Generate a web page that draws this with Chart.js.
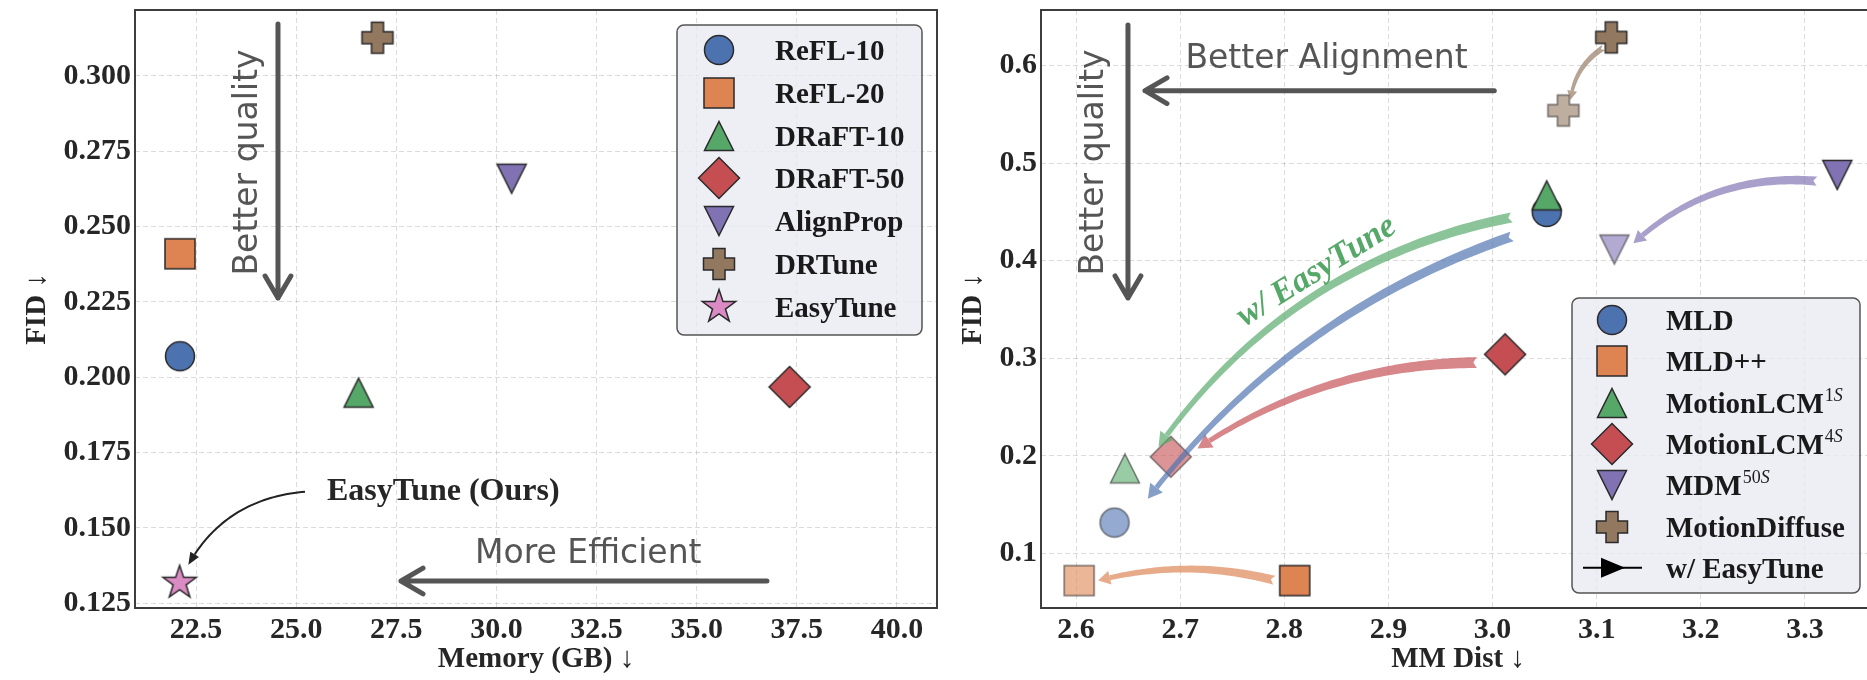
<!DOCTYPE html>
<html>
<head>
<meta charset="utf-8">
<script src="https://cdn.jsdelivr.net/npm/chart.js@4.4.1/dist/chart.umd.min.js"></script>
<style>
  html, body { margin: 0; padding: 0; background: #fff; width: 1867px; height: 680px; overflow: hidden; }
  canvas { position: absolute; top: 0; }
  #left { left: 0; }
  #right { left: 950px; }
</style>
</head>
<body>
<canvas id="left" width="950" height="680"></canvas>
<canvas id="right" width="930" height="680"></canvas>
<script>
// ---- left panel: memory cost vs FID
const methods = ['ReFL-10', 'ReFL-20', 'DRaFT-10', 'DRaFT-50', 'AlignProp', 'DRTune', 'EasyTune'];
const memoryGB = [22.1, 22.1, 26.56, 37.32, 30.38, 27.03, 22.09];
const fidByMemory = [0.207, 0.241, 0.1949, 0.1968, 0.2659, 0.3127, 0.1318];
const memoryTicks = [22.5, 25.0, 27.5, 30.0, 32.5, 35.0, 37.5, 40.0];
const fidTicksLeft = [0.125, 0.150, 0.175, 0.200, 0.225, 0.250, 0.275, 0.300];

// ---- right panel: MM Dist vs FID, before and after EasyTune
const models = ['MLD', 'MLD++', 'MotionLCM', 'MotionLCM', 'MDM', 'MotionDiffuse'];
const modelSup = ['', '', '1', '4', '50', ''];
const mmDistBase = [3.052, 2.810, 3.052, 3.012, 3.331, 3.114];
const fidBase = [0.450, 0.072, 0.467, 0.304, 0.488, 0.629];
const mmDistTuned = [2.637, 2.603, 2.647, 2.691, 3.117, 3.068];
const fidTuned = [0.1315, 0.072, 0.187, 0.199, 0.4115, 0.554];
const mmDistTicks = [2.6, 2.7, 2.8, 2.9, 3.0, 3.1, 3.2, 3.3];
const fidTicksRight = [0.1, 0.2, 0.3, 0.4, 0.5, 0.6];

const SERIF = '"Liberation Serif", "Times New Roman", serif';
const HAND = '"DejaVu Sans", sans-serif';
const INK = '#262626';
const NOTE = '#555555';
const colors = ['#4C72B0', '#DD8452', '#55A868', '#C44E52', '#8172B3', '#937860', '#DA8BC3'];

// filled marker shapes in the matplotlib style, used as pointStyle images
function makeMarker(shape, fill, alpha) {
  const s = 48, m = s / 2;
  const c = document.createElement('canvas');
  c.width = s; c.height = s;
  const g = c.getContext('2d');
  g.globalAlpha = alpha;
  g.fillStyle = fill;
  g.strokeStyle = '#2a2a2a';
  g.lineWidth = 1.5;
  g.beginPath();
  const poly = pts => {
    pts.forEach(([x, y], i) => i ? g.lineTo(m + x, m + y) : g.moveTo(m + x, m + y));
    g.closePath();
  };
  switch (shape) {
    case 'circle': g.arc(m, m, 14.5, 0, Math.PI * 2); break;
    case 'square': poly([[-15, -15], [15, -15], [15, 15], [-15, 15]]); break;
    case 'diamond': poly([[0, -20.5], [20.5, 0], [0, 20.5], [-20.5, 0]]); break;
    case 'triUp': poly([[0, -14.5], [14.5, 14.5], [-14.5, 14.5]]); break;
    case 'triDown': poly([[0, 14.5], [14.5, -14.5], [-14.5, -14.5]]); break;
    case 'plus': {
      const a = 15.5, b = 6;
      poly([[-b, -a], [b, -a], [b, -b], [a, -b], [a, b], [b, b], [b, a], [-b, a], [-b, b], [-a, b], [-a, -b], [-b, -b]]);
      break;
    }
    case 'star': {
      const pts = [];
      for (let k = 0; k < 10; k++) {
        const r = k % 2 ? 6.8 : 17.5, ang = -Math.PI / 2 + k * Math.PI / 5;
        pts.push([r * Math.cos(ang), r * Math.sin(ang)]);
      }
      poly(pts);
      break;
    }
  }
  g.fill();
  g.stroke();
  return c;
}

const shapes = ['circle', 'square', 'triUp', 'diamond', 'triDown', 'plus', 'star'];
const leftMarkers = methods.map((m, i) => makeMarker(shapes[i], colors[i], 1));
const baseMarkers = models.map((m, i) => makeMarker(shapes[i], colors[i], 1));
const tunedMarkers = models.map((m, i) => makeMarker(shapes[i], colors[i], 0.6));

// ---- drawing helpers for the annotations
function quad(S, C, E, t) {
  const u = 1 - t;
  return { x: u * u * S.x + 2 * t * u * C.x + t * t * E.x, y: u * u * S.y + 2 * t * u * C.y + t * t * E.y };
}
function ctrlPoint(S, E, rad) {
  const dx = E.x - S.x, dy = E.y - S.y;
  return { x: (S.x + E.x) / 2 - rad * dy, y: (S.y + E.y) / 2 + rad * dx };
}
function tAtDistFromEnd(S, C, E, d) {
  for (let t = 1; t > 0; t -= 0.001) {
    const p = quad(S, C, E, t);
    if (Math.hypot(p.x - E.x, p.y - E.y) >= d) return t;
  }
  return 0;
}

function grayArrow(ctx, x1, y1, x2, y2) {
  const a = Math.atan2(y2 - y1, x2 - x1), hl = 25.5, spread = 0.53;
  ctx.save();
  ctx.strokeStyle = NOTE;
  ctx.lineWidth = 5;
  ctx.lineCap = 'round';
  ctx.lineJoin = 'round';
  ctx.beginPath();
  ctx.moveTo(x1, y1);
  ctx.lineTo(x2, y2);
  ctx.moveTo(x2 - hl * Math.cos(a - spread), y2 - hl * Math.sin(a - spread));
  ctx.lineTo(x2, y2);
  ctx.lineTo(x2 - hl * Math.cos(a + spread), y2 - hl * Math.sin(a + spread));
  ctx.stroke();
  ctx.restore();
}

// thin black curved arrow, tip shrunk along the path
function calloutArrow(ctx, S, P, rad, shrink) {
  const C = ctrlPoint(S, P, rad);
  const tTip = tAtDistFromEnd(S, C, P, shrink);
  const tip = quad(S, C, P, tTip);
  const tBase = tAtDistFromEnd(S, C, P, shrink + 12);
  const base = quad(S, C, P, tBase);
  ctx.save();
  ctx.strokeStyle = '#222';
  ctx.fillStyle = '#222';
  ctx.lineWidth = 2;
  ctx.beginPath();
  for (let i = 0; i <= 40; i++) {
    const p = quad(S, C, P, tBase * i / 40);
    i ? ctx.lineTo(p.x, p.y) : ctx.moveTo(p.x, p.y);
  }
  ctx.stroke();
  const ux = (tip.x - base.x) / 12, uy = (tip.y - base.y) / 12, hw = 5;
  ctx.beginPath();
  ctx.moveTo(tip.x, tip.y);
  ctx.lineTo(base.x - uy * hw, base.y + ux * hw);
  ctx.lineTo(base.x + uy * hw, base.y - ux * hw);
  ctx.closePath();
  ctx.fill();
  ctx.restore();
}

// wide translucent tapered arrow with a notched tail
function bandArrow(ctx, S, E, a) {
  const off = document.createElement('canvas');
  off.width = ctx.canvas.width; off.height = ctx.canvas.height;
  const g = off.getContext('2d');
  const C = ctrlPoint(S, E, a.rad);
  const tb = tAtDistFromEnd(S, C, E, a.head);
  const der = t => ({ x: 2 * (1 - t) * (C.x - S.x) + 2 * t * (E.x - C.x), y: 2 * (1 - t) * (C.y - S.y) + 2 * t * (E.y - C.y) });
  const N = 60, l = [], r = [];
  for (let i = 0; i <= N; i++) {
    const t = tb * i / N, p = quad(S, C, E, t), d = der(t);
    const len = Math.hypot(d.x, d.y), nx = -d.y / len, ny = d.x / len;
    const w = (a.w0 + (a.w1 - a.w0) * i / N) / 2;
    l.push([p.x + nx * w, p.y + ny * w]);
    r.push([p.x - nx * w, p.y - ny * w]);
  }
  g.fillStyle = a.color;
  g.beginPath();
  l.forEach(([x, y], i) => i ? g.lineTo(x, y) : g.moveTo(x, y));
  r.reverse().forEach(([x, y]) => g.lineTo(x, y));
  g.closePath();
  g.fill();
  const B = quad(S, C, E, tb);
  const bl = Math.hypot(E.x - B.x, E.y - B.y), ux = (E.x - B.x) / bl, uy = (E.y - B.y) / bl;
  g.beginPath();
  g.moveTo(E.x, E.y);
  g.lineTo(B.x - uy * a.headW, B.y + ux * a.headW);
  g.lineTo(B.x + uy * a.headW, B.y - ux * a.headW);
  g.closePath();
  g.fill();
  const d0 = der(0), l0 = Math.hypot(d0.x, d0.y), tx = d0.x / l0, ty = d0.y / l0;
  g.globalCompositeOperation = 'destination-out';
  g.beginPath();
  g.moveTo(S.x - ty * a.w0 - tx * 2, S.y + tx * a.w0 - ty * 2);
  g.lineTo(S.x + tx * 5, S.y + ty * 5);
  g.lineTo(S.x + ty * a.w0 - tx * 2, S.y - tx * a.w0 - ty * 2);
  g.closePath();
  g.fill();
  ctx.save();
  ctx.globalAlpha = 0.68;
  ctx.drawImage(off, 0, 0);
  ctx.restore();
}

function drawNote(ctx, n, px, py) {
  ctx.save();
  ctx.translate(px(n.x), py(n.y));
  if (n.rot) ctx.rotate(n.rot * Math.PI / 180);
  ctx.font = n.font;
  ctx.fillStyle = n.color;
  ctx.textAlign = 'center';
  ctx.textBaseline = n.baseline || 'alphabetic';
  ctx.fillText(n.text, 0, 0);
  ctx.restore();
}

function drawLegend(ctx, area, L) {
  const x0 = area.right - L.inset - L.width;
  const y0 = L.anchor === 'top' ? area.top + L.inset : area.bottom - L.inset - L.height;
  ctx.save();
  ctx.beginPath();
  ctx.roundRect(x0, y0, L.width, L.height, 7);
  ctx.fillStyle = 'rgba(234,234,242,0.8)';
  ctx.fill();
  ctx.lineWidth = 1.5;
  ctx.strokeStyle = '#555';
  ctx.stroke();
  L.items.forEach((it, k) => {
    const cy = y0 + L.firstRow + k * L.rowH;
    const mx = x0 + L.markerX;
    if (it.marker) {
      ctx.drawImage(it.marker, Math.round(mx - it.marker.width / 2), Math.round(cy - it.marker.height / 2));
    } else {
      ctx.strokeStyle = '#000';
      ctx.fillStyle = '#000';
      ctx.lineWidth = 2;
      ctx.beginPath();
      ctx.moveTo(mx - 29, cy);
      ctx.lineTo(mx + 30, cy);
      ctx.stroke();
      ctx.beginPath();
      ctx.moveTo(mx + 13, cy);
      ctx.lineTo(mx - 11, cy - 10);
      ctx.lineTo(mx - 11, cy + 10);
      ctx.closePath();
      ctx.fill();
    }
    ctx.fillStyle = '#1a1a1a';
    ctx.textAlign = 'left';
    ctx.textBaseline = 'alphabetic';
    ctx.font = `bold 29px ${SERIF}`;
    const tx = x0 + L.textX, base = cy + 10;
    ctx.fillText(it.text, tx, base);
    if (it.sup) {
      let sx = tx + ctx.measureText(it.text).width + 1;
      ctx.font = `18px ${SERIF}`;
      ctx.fillText(it.sup, sx, base - 12);
      sx += ctx.measureText(it.sup).width;
      ctx.font = `italic 18px ${SERIF}`;
      ctx.fillText('S', sx, base - 12);
    }
  });
  ctx.restore();
}

// annotation layout for each panel (data units where they sit on the axes)
const panels = {
  left: {
    grayArrows: [
      { x1: 24.547, y1: 0.31726, x2: 24.547, y2: 0.22632 },
      { x1: 36.754, y1: 0.1324, x2: 27.618, y2: 0.1324 }
    ],
    notes: [
      { text: 'Better quality', x: 24.023, y: 0.27129, rot: -90, font: `33px ${HAND}`, color: NOTE },
      { text: 'More Efficient', x: 32.293, y: 0.13847, font: `33px ${HAND}`, color: NOTE },
      { text: 'EasyTune (Ours)', x: 28.674, y: 0.15928, font: `bold 32px ${SERIF}`, color: INK }
    ],
    callout: { x: 25.221, y: 0.16204, target: 6, rad: 0.3, shrink: 20 },
    bands: [],
    legend: {
      anchor: 'top', inset: 15, width: 245, height: 310, firstRow: 25, rowH: 42.8, markerX: 42, textX: 98,
      items: methods.map((m, i) => ({ marker: leftMarkers[i], text: m }))
    }
  },
  right: {
    grayArrows: [
      { x1: 2.6499, y1: 0.64173, x2: 2.6499, y2: 0.3618 },
      { x1: 3.00166, y1: 0.57436, x2: 2.66626, y2: 0.57436 }
    ],
    notes: [
      { text: 'Better quality', x: 2.6259, y: 0.50074, rot: -90, font: `33px ${HAND}`, color: NOTE },
      { text: 'Better Alignment', x: 2.84054, y: 0.59733, font: `33px ${HAND}`, color: NOTE },
      { text: 'w/ EasyTune', x: 2.83113, y: 0.38877, rot: -32, baseline: 'middle', font: `italic bold 34px ${SERIF}`, color: '#55A868' }
    ],
    bands: [
      { model: 3, shrinkA: 28, shrinkB: 28, rad: 0.15, w0: 11, w1: 5, head: 14, headW: 8 },
      { model: 2, shrinkA: 40, shrinkB: 40, rad: 0.2, w0: 10, w1: 5, head: 14, headW: 8 },
      { model: 0, shrinkA: 41, shrinkB: 41, rad: 0.15, w0: 10, w1: 5, head: 14, headW: 8 },
      { model: 1, shrinkA: 19, shrinkB: 19, rad: 0.13, w0: 9, w1: 5, head: 12, headW: 7 },
      { model: 4, shrinkA: 20, shrinkB: 20, rad: 0.22, w0: 9, w1: 5, head: 12, headW: 7 },
      { model: 5, shrinkA: 11, shrinkB: 13, rad: 0.24, w0: 6, w1: 3.5, head: 9, headW: 5 }
    ],
    legend: {
      anchor: 'bottom', inset: 15, width: 288, height: 295, firstRow: 22, rowH: 41.3, markerX: 40, textX: 94,
      items: models.map((m, i) => ({ marker: baseMarkers[i], text: m, sup: modelSup[i] }))
        .concat([{ marker: null, text: 'w/ EasyTune' }])
    }
  }
};

const panelPlugin = {
  id: 'panel',
  beforeDatasetsDraw(chart) {
    const a = chart.chartArea, ctx = chart.ctx;
    ctx.save();
    ctx.strokeStyle = '#3d3d3d';
    ctx.lineWidth = 2;
    ctx.strokeRect(a.left, a.top, a.right - a.left, a.bottom - a.top);
    ctx.restore();
  },
  afterDatasetsDraw(chart) {
    const cfg = panels[chart.canvas.id], ctx = chart.ctx;
    const px = v => chart.scales.x.getPixelForValue(v);
    const py = v => chart.scales.y.getPixelForValue(v);
    cfg.bands.forEach(b => {
      const P0 = { x: px(mmDistBase[b.model]), y: py(fidBase[b.model]) };
      const P1 = { x: px(mmDistTuned[b.model]), y: py(fidTuned[b.model]) };
      const len = Math.hypot(P1.x - P0.x, P1.y - P0.y);
      const ux = (P1.x - P0.x) / len, uy = (P1.y - P0.y) / len;
      const S = { x: P0.x + ux * b.shrinkA, y: P0.y + uy * b.shrinkA };
      const E = { x: P1.x - ux * b.shrinkB, y: P1.y - uy * b.shrinkB };
      bandArrow(ctx, S, E, Object.assign({ color: colors[b.model] }, b));
    });
    cfg.grayArrows.forEach(g => grayArrow(ctx, px(g.x1), py(g.y1), px(g.x2), py(g.y2)));
    cfg.notes.forEach(n => drawNote(ctx, n, px, py));
    if (cfg.callout) {
      const c = cfg.callout;
      calloutArrow(ctx, { x: px(c.x), y: py(c.y) },
        { x: px(memoryGB[c.target]), y: py(fidByMemory[c.target]) }, c.rad, c.shrink);
    }
  },
  afterDraw(chart) {
    drawLegend(chart.ctx, chart.chartArea, panels[chart.canvas.id].legend);
  }
};

function axis(range, ticks, digits, title, titlePad, size) {
  return {
    type: 'linear',
    min: range[0],
    max: range[1],
    afterBuildTicks: ax => { ax.ticks = ticks.map(v => ({ value: v })); },
    afterFit: ax => {
      if (ax.isHorizontal()) ax.height = size; else ax.width = size;
      // tick labels sit well inside the frame, so no extra room is needed
      ax.paddingTop = 0; ax.paddingBottom = 0; ax.paddingLeft = 0; ax.paddingRight = 0;
    },
    ticks: {
      font: { family: SERIF, size: 30, weight: 'bold' },
      color: INK,
      padding: 4,
      callback: v => Number(v).toFixed(digits)
    },
    grid: { color: 'rgba(0,0,0,0.14)', lineWidth: 1, drawTicks: false },
    border: { display: false, dash: [5, 3] },
    title: {
      display: true,
      text: title,
      font: { family: SERIF, size: 29, weight: 'bold' },
      color: INK,
      padding: titlePad
    }
  };
}

const baseOptions = {
  responsive: false,
  animation: false,
  events: [],
  plugins: { legend: { display: false }, tooltip: { enabled: false } }
};

new Chart(document.getElementById('left'), {
  type: 'scatter',
  data: {
    datasets: methods.map((m, i) => ({
      label: m,
      data: [{ x: memoryGB[i], y: fidByMemory[i] }],
      pointStyle: leftMarkers[i],
      pointRadius: 15,
      pointHoverRadius: 15,
      clip: false,
      order: methods.length - i
    }))
  },
  options: Object.assign({}, baseOptions, {
    layout: { autoPadding: false, padding: { top: 10, right: 13, left: 0, bottom: 0 } },
    scales: {
      x: axis([20.977, 41.0], memoryTicks, 1, 'Memory (GB) \u2193', { top: 0, bottom: 3 }, 72),
      y: axis([0.12344, 0.3219], fidTicksLeft, 3, 'FID \u2193', { top: 20, bottom: 0 }, 135)
    }
  }),
  plugins: [panelPlugin]
});

new Chart(document.getElementById('right'), {
  type: 'scatter',
  data: {
    datasets: models.map((m, i) => ({
      label: m + modelSup[i],
      data: [{ x: mmDistBase[i], y: fidBase[i] }, { x: mmDistTuned[i], y: fidTuned[i] }],
      pointStyle: [baseMarkers[i], tunedMarkers[i]],
      pointRadius: 15,
      pointHoverRadius: 15,
      clip: false,
      order: models.length - i
    }))
  },
  options: Object.assign({}, baseOptions, {
    layout: { autoPadding: false, padding: { top: 10, right: 5, left: 0, bottom: 0 } },
    scales: {
      x: axis([2.56639, 3.36722], mmDistTicks, 1, 'MM Dist \u2193', { top: 0, bottom: 3 }, 72),
      y: axis([0.04391, 0.65712], fidTicksRight, 1, 'FID \u2193', { top: 6, bottom: 0 }, 91)
    }
  }),
  plugins: [panelPlugin]
});
</script>
</body>
</html>
